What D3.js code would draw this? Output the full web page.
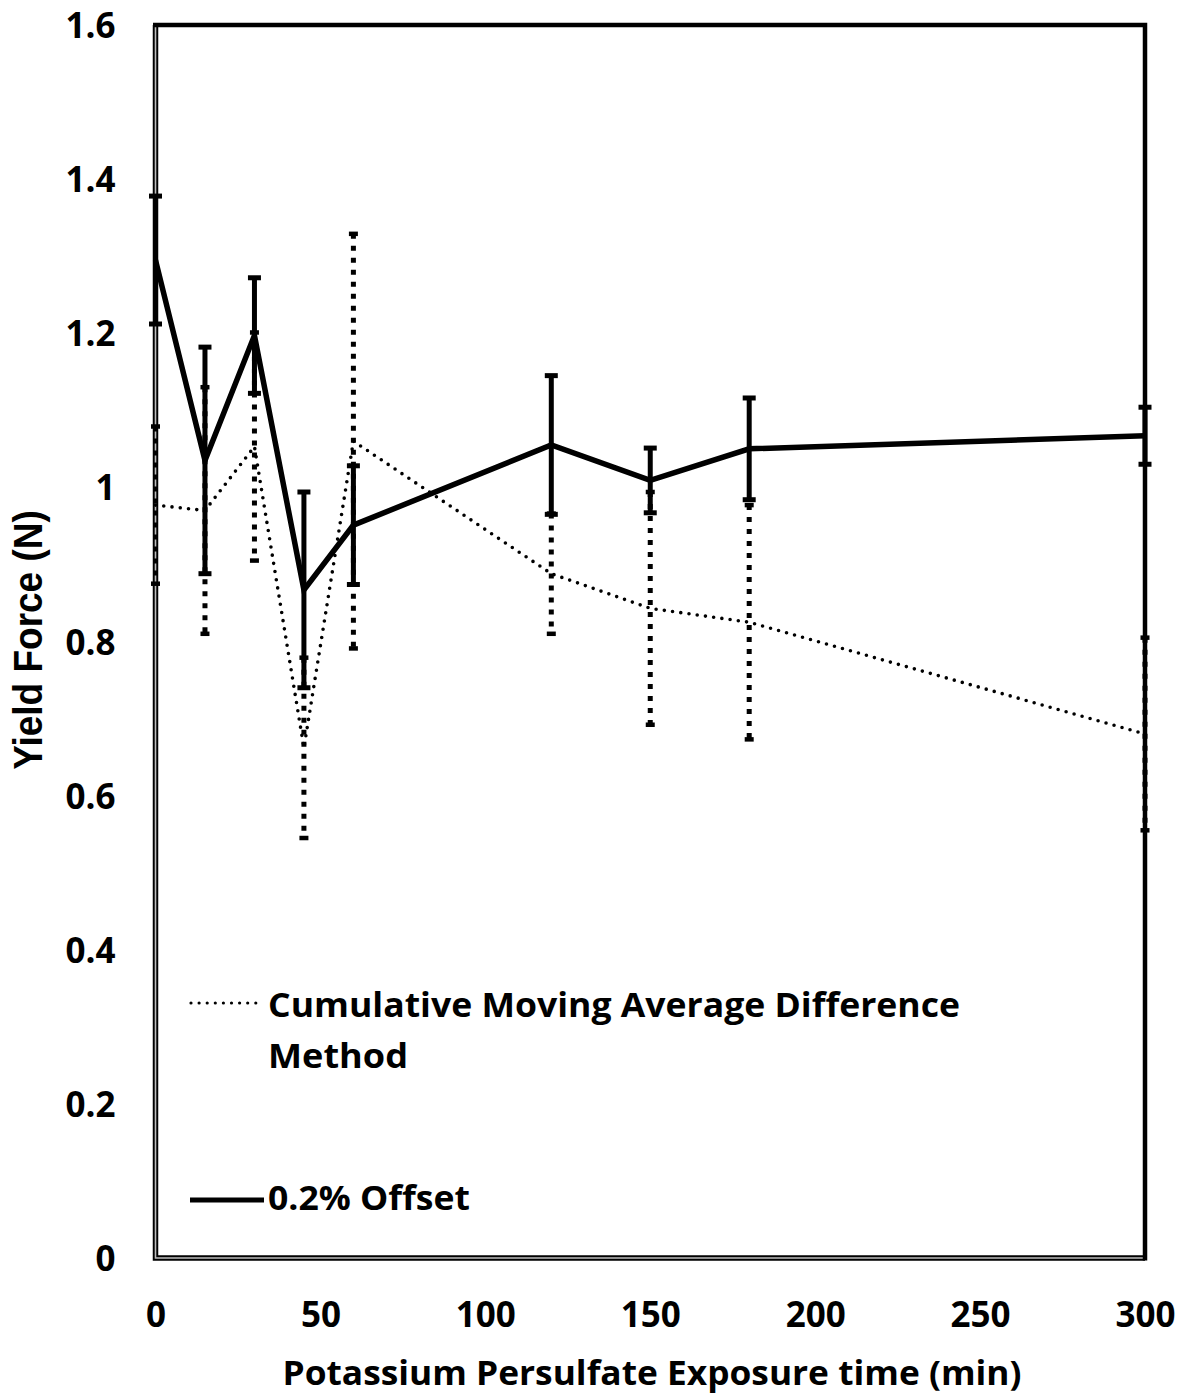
<!DOCTYPE html>
<html>
<head>
<meta charset="utf-8">
<script src="https://cdn.jsdelivr.net/npm/d3@7"></script>
<style>
  html, body { margin: 0; padding: 0; background: #fff; }
  svg { display: block; }
</style>
</head>
<body>
<svg id="chart" width="1186" height="1395"></svg>
<script>
// Exposure times (min)
const times = [0, 15, 30, 45, 60, 120, 150, 180, 300];
// Yield force by the 0.2% offset method (N) and its error
const offsetMean = [1.295, 1.035, 1.197, 0.867, 0.951, 1.055, 1.009, 1.050, 1.067];
const offsetErr  = [0.083, 0.147, 0.075, 0.127, 0.077, 0.090, 0.042, 0.066, 0.037];
// Yield force by the cumulative moving average difference method (N) and its error
const cmadMean = [0.977, 0.970, 1.053, 0.662, 1.060, 0.888, 0.843, 0.825, 0.680];
const cmadErr  = [0.102, 0.160, 0.148, 0.117, 0.269, 0.078, 0.151, 0.152, 0.125];
// Axis ticks
const xTicks = [0, 50, 100, 150, 200, 250, 300];
const yTicks = [0, 0.2, 0.4, 0.6, 0.8, 1, 1.2, 1.4, 1.6];
const seriesNames = ["Cumulative Moving Average Difference", "Method", "0.2% Offset"];

const svg = d3.select("#chart");
const plotL = 155.5, plotR = 1145, plotT = 25, plotB = 1258;

const x = d3.scaleLinear().domain([0, 300]).range([plotL, plotR]);
const y = d3.scaleLinear().domain([0, 1.6]).range([plotB, plotT]);

const labelFont = "'Open Sans', Lato, sans-serif";

// Frame: doubled left/bottom edges, heavy top/right edges
const frame = svg.append("g");
frame.append("path")
  .attr("d", `M${plotL},${plotT} V${plotB} H${plotR}`)
  .attr("fill", "none").attr("stroke", "#000").attr("stroke-width", 5.5);
frame.append("path")
  .attr("d", `M${plotL},${plotT} V${plotB} H${plotR}`)
  .attr("fill", "none").attr("stroke", "#bdbdbd").attr("stroke-width", 1.6);
frame.append("path")
  .attr("d", `M${plotL - 2.5},${plotT} H${plotR} V${plotB + 2.5}`)
  .attr("fill", "none").attr("stroke", "#000").attr("stroke-width", 4.5);

// Axes (labels only)
const xAxis = svg.append("g")
  .attr("transform", `translate(0,${plotB})`)
  .call(d3.axisBottom(x).tickValues(xTicks).tickSize(0).tickFormat(d3.format("d")));
xAxis.select(".domain").remove();
xAxis.selectAll("text")
  .attr("font-family", labelFont).attr("font-weight", 700).attr("font-size", 35)
  .attr("fill", "#000").attr("dy", 0).attr("y", 69);

const yAxis = svg.append("g")
  .attr("transform", `translate(${plotL},0)`)
  .call(d3.axisLeft(y).tickValues(yTicks).tickSize(0).tickPadding(40).tickFormat(d => String(+d.toFixed(1))));
yAxis.select(".domain").remove();
yAxis.selectAll("text")
  .attr("font-family", labelFont).attr("font-weight", 700).attr("font-size", 35)
  .attr("fill", "#000").attr("dy", "0.36em");

// Axis titles
svg.append("text")
  .attr("x", 652).attr("y", 1385)
  .attr("text-anchor", "middle")
  .attr("font-family", labelFont).attr("font-weight", 700).attr("font-size", 34)
  .attr("textLength", 739).attr("lengthAdjust", "spacingAndGlyphs")
  .text("Potassium Persulfate Exposure time (min)");

svg.append("text")
  .attr("transform", "translate(42,640) scale(1.1,1) rotate(-90)")
  .attr("text-anchor", "middle")
  .attr("font-family", "'Liberation Sans', Arial, sans-serif").attr("font-weight", 700).attr("font-size", 37)
  .text("Yield Force (N)");

const cmadData = times.map((t, i) => ({ t, v: cmadMean[i], e: cmadErr[i] }));
const offData = times.map((t, i) => ({ t, v: offsetMean[i], e: offsetErr[i] }));

const line = d3.line().x(d => x(d.t)).y(d => y(d.v));

// Cumulative moving average difference: dotted line with square-dot error bars
const gC = svg.append("g");
gC.append("path").datum(cmadData)
  .attr("d", line).attr("fill", "none").attr("stroke", "#000")
  .attr("stroke-width", 3.6).attr("stroke-linecap", "round")
  .attr("stroke-dasharray", "0 8.3");
const cBars = gC.selectAll("g.bar").data(cmadData).join("g").attr("class", "bar");
cBars.append("line")
  .attr("x1", d => x(d.t)).attr("x2", d => x(d.t))
  .attr("y1", d => y(d.v + d.e)).attr("y2", d => y(d.v - d.e))
  .attr("stroke", "#000").attr("stroke-width", 5).attr("stroke-dasharray", "5 7");
cBars.selectAll("line.cap").data(d => [d.v + d.e, d.v - d.e].map(v => ({ t: d.t, v })))
  .join("line").attr("class", "cap")
  .attr("x1", d => x(d.t) - 4.5).attr("x2", d => x(d.t) + 4.5)
  .attr("y1", d => y(d.v)).attr("y2", d => y(d.v))
  .attr("stroke", "#000").attr("stroke-width", 4.5);

// 0.2% offset: solid line with capped error bars
const gO = svg.append("g");
gO.append("path").datum(offData)
  .attr("d", line).attr("fill", "none").attr("stroke", "#000")
  .attr("stroke-width", 5.5).attr("stroke-linejoin", "miter");
const oBars = gO.selectAll("g.bar").data(offData).join("g").attr("class", "bar");
oBars.append("line")
  .attr("x1", d => x(d.t)).attr("x2", d => x(d.t))
  .attr("y1", d => y(d.v + d.e)).attr("y2", d => y(d.v - d.e))
  .attr("stroke", "#000").attr("stroke-width", 5);
oBars.selectAll("line.cap").data(d => [d.v + d.e, d.v - d.e].map(v => ({ t: d.t, v })))
  .join("line").attr("class", "cap")
  .attr("x1", d => x(d.t) - 6.5).attr("x2", d => x(d.t) + 6.5)
  .attr("y1", d => y(d.v)).attr("y2", d => y(d.v))
  .attr("stroke", "#000").attr("stroke-width", 5);

// Legend
const legend = svg.append("g");
legend.append("line")
  .attr("x1", 191).attr("x2", 256).attr("y1", 1003).attr("y2", 1003)
  .attr("stroke", "#000").attr("stroke-width", 3.2).attr("stroke-linecap", "round")
  .attr("stroke-dasharray", "0 8.1");
legend.append("text")
  .attr("x", 268).attr("y", 1017)
  .attr("font-family", labelFont).attr("font-weight", 700).attr("font-size", 34)
  .attr("textLength", 692).attr("lengthAdjust", "spacingAndGlyphs")
  .text(seriesNames[0]);
legend.append("text")
  .attr("x", 268).attr("y", 1068)
  .attr("font-family", labelFont).attr("font-weight", 700).attr("font-size", 34)
  .attr("textLength", 140).attr("lengthAdjust", "spacingAndGlyphs")
  .text(seriesNames[1]);
legend.append("line")
  .attr("x1", 190).attr("x2", 264).attr("y1", 1200).attr("y2", 1200)
  .attr("stroke", "#000").attr("stroke-width", 5);
legend.append("text")
  .attr("x", 268).attr("y", 1210)
  .attr("font-family", labelFont).attr("font-weight", 700).attr("font-size", 34)
  .attr("textLength", 202).attr("lengthAdjust", "spacingAndGlyphs")
  .text(seriesNames[2]);
</script>
</body>
</html>
